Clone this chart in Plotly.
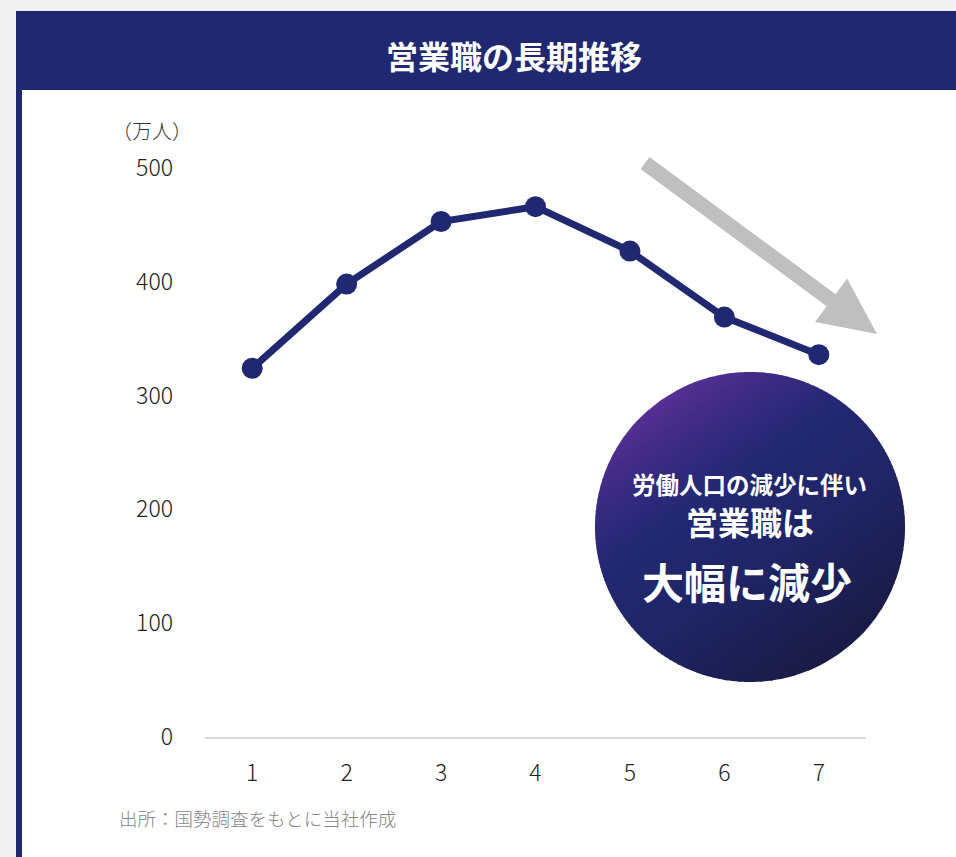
import numpy as np
import plotly.graph_objects as go

# ---- data ----
periods = [1, 2, 3, 4, 5, 6, 7]
sales_workers = [324, 398, 453, 466, 427, 369, 336]   # 万人
y_ticks = [0, 100, 200, 300, 400, 500]

title_text = "営業職の長期推移"
unit_text = "（万人）"
source_text = "出所：国勢調査をもとに当社作成"
callout_lines = ["労働人口の減少に伴い", "営業職は", "大幅に減少"]

# ---- canvas helpers (pixel -> paper fraction, margins are zero) ----
W, H = 956, 857
NAVY = "#1f2870"
FONT = "Noto Sans CJK JP"


def px(x):
    return x / W


def py(y):
    return 1 - y / H


def rect(x0, y0, x1, y1, color):
    return dict(type="rect", xref="paper", yref="paper",
                x0=px(x0), x1=px(x1), y0=py(y1), y1=py(y0),
                fillcolor=color, line=dict(width=0), layer="below")


def poly_path(pts):
    s = "M " + " L ".join(f"{px(x):.5f},{py(y):.5f}" for x, y in pts)
    return s + " Z"


shapes = [
    rect(16, 11, W, H, "#ffffff"),       # white panel
    rect(16, 11, W, 90, NAVY),           # header band
    rect(16, 90, 22, H, NAVY),           # left accent bar
]

# ---- downward trend arrow ----
start = np.array([645.0, 163.0])
tip = np.array([877.0, 334.0])
d = (tip - start) / np.linalg.norm(tip - start)
n = np.array([-d[1], d[0]])
head_len, head_half, shaft_half = 57.0, 27.0, 7.5
base = tip - d * head_len
arrow_pts = [start + n * shaft_half, base + n * shaft_half, base + n * head_half,
             tip, base - n * head_half, base - n * shaft_half, start - n * shaft_half]
shapes.append(dict(type="path", xref="paper", yref="paper",
                   path=poly_path(arrow_pts), fillcolor="#bfbfbf",
                   line=dict(width=0), layer="above"))

# ---- callout disc with a diagonal gradient built from thin bands ----
cx, cy, R = 750.0, 527.0, 155.0
theta = np.deg2rad(55)
g = np.array([np.cos(theta), np.sin(theta)])      # gradient direction
gp = np.array([-g[1], g[0]])
stops = [(0.0, (0x56, 0x2f, 0x93)), (0.16, (0x3a, 0x2a, 0x82)),
         (0.34, (0x22, 0x29, 0x72)), (0.62, (0x1f, 0x25, 0x66)),
         (1.0, (0x1a, 0x1b, 0x45))]


def grad_color(t):
    for (t0, c0), (t1, c1) in zip(stops[:-1], stops[1:]):
        if t <= t1:
            f = (t - t0) / (t1 - t0)
            c = [round(a + (b - a) * f) for a, b in zip(c0, c1)]
            return "rgb({},{},{})".format(*c)
    return "rgb({},{},{})".format(*stops[-1][1])


n_bands = 70
edges = np.linspace(-R, R, n_bands + 1)
for i in range(n_bands):
    u0 = edges[i]
    u1 = min(edges[i + 1] + 1.0, R)
    us = np.linspace(u0, u1, 6)
    top = [(u, np.sqrt(max(R * R - u * u, 0))) for u in us]
    bot = [(u, -np.sqrt(max(R * R - u * u, 0))) for u in us[::-1]]
    pts = [(cx + u * g[0] + v * gp[0], cy + u * g[1] + v * gp[1]) for u, v in top + bot]
    t = (i + 0.5) / n_bands
    shapes.append(dict(type="path", xref="paper", yref="paper",
                       path=poly_path(pts), fillcolor=grad_color(t),
                       line=dict(width=0), layer="above"))

# ---- figure ----
fig = go.Figure()
fig.add_trace(go.Scatter(
    x=periods, y=sales_workers, mode="lines+markers",
    line=dict(color=NAVY, width=7),
    marker=dict(color=NAVY, size=21),
    hoverinfo="x+y", showlegend=False,
))

annotations = [
    dict(text=title_text, x=px(514), y=py(55), xref="paper", yref="paper",
         showarrow=False, font=dict(family=FONT, size=32, color="#ffffff", weight="bold"),
         xanchor="center", yanchor="middle"),
    dict(text=unit_text, x=px(152), y=py(131), xref="paper", yref="paper",
         showarrow=False, font=dict(family=FONT, size=20, color="#333333", weight=300),
         xanchor="center", yanchor="middle"),
    dict(text=source_text, x=px(117), y=py(818), xref="paper", yref="paper",
         showarrow=False, font=dict(family=FONT, size=18.5, color="#858585", weight=300),
         xanchor="left", yanchor="middle"),
    dict(text=callout_lines[0], x=px(cx - 1), y=py(484), xref="paper", yref="paper",
         showarrow=False, font=dict(family=FONT, size=23.5, color="#ffffff", weight="bold"),
         xanchor="center", yanchor="middle", borderpad=0),
    dict(text=callout_lines[1], x=px(cx), y=py(521), xref="paper", yref="paper",
         showarrow=False, font=dict(family=FONT, size=32, color="#ffffff", weight="bold"),
         xanchor="center", yanchor="middle", borderpad=0),
    dict(text=callout_lines[2], x=px(cx - 3), y=py(580), xref="paper", yref="paper",
         showarrow=False, font=dict(family=FONT, size=42, color="#ffffff", weight="bold"),
         xanchor="center", yanchor="middle", borderpad=0),
]

fig.update_layout(
    width=W, height=H,
    margin=dict(l=0, r=0, t=0, b=0, pad=0, autoexpand=False),
    paper_bgcolor="#f1f1f1",
    plot_bgcolor="rgba(0,0,0,0)",
    shapes=shapes,
    annotations=annotations,
    xaxis=dict(domain=[px(205), px(866)], range=[0.5, 7.5],
               tickvals=periods, ticktext=[str(p) for p in periods],
               showgrid=False, zeroline=False, showline=True,
               linecolor="#d9d9d9", linewidth=2, ticks="",
               ticklabelstandoff=14, automargin=False,
               tickfont=dict(family=FONT, size=23, color="#222222", weight=300),
               fixedrange=True),
    yaxis=dict(domain=[py(737), py(168)], range=[0, 500],
               tickvals=y_ticks, showgrid=False, zeroline=False, showline=False,
               ticks="", ticklabelstandoff=31, automargin=False,
               tickfont=dict(family=FONT, size=23, color="#222222", weight=300),
               fixedrange=True),
)

fig.write_html("out.html")
